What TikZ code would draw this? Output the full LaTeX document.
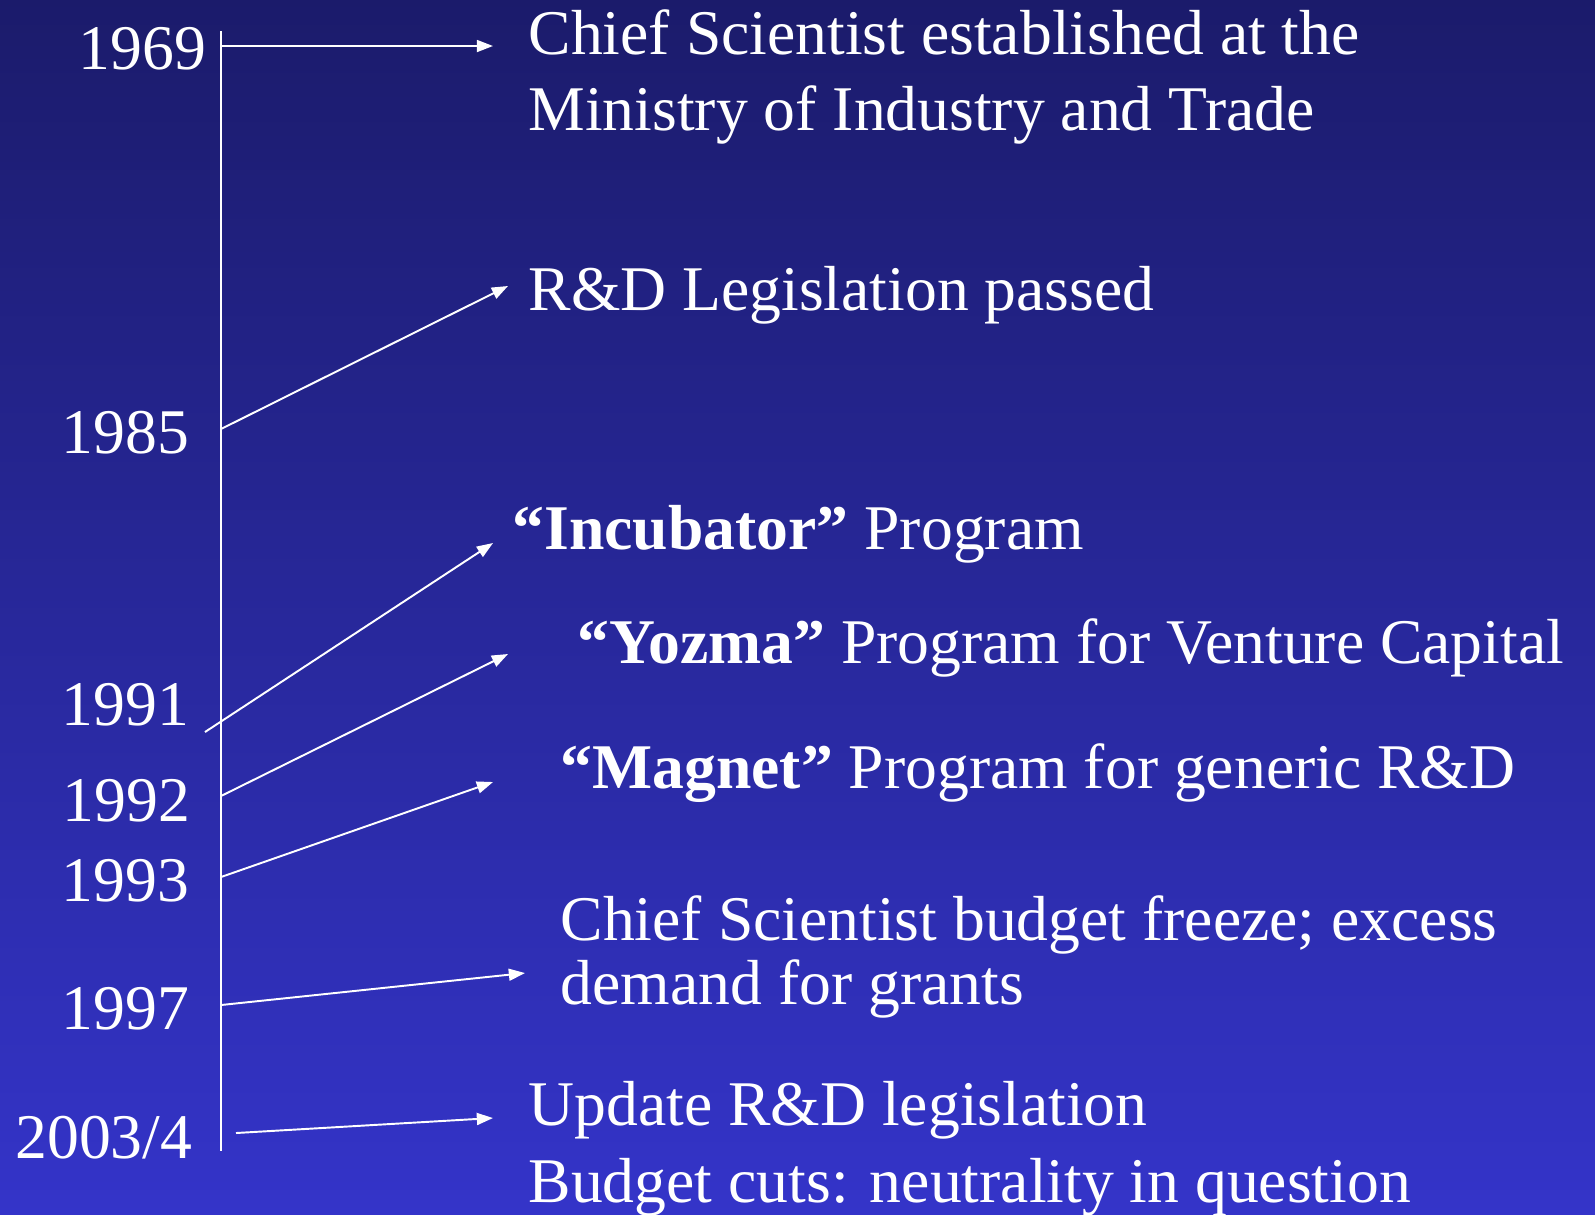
\documentclass[tikz,border=0pt]{standalone}
\usepackage{fontspec}
\setmainfont{Liberation Serif}
\usetikzlibrary{arrows.meta}
\definecolor{slidetop}{RGB}{27,27,107}
\definecolor{slidemid}{RGB}{42,42,168}
\definecolor{slidebot}{RGB}{52,52,201}
\tikzset{
  yr/.style={anchor=base east,inner sep=0pt,text=white,font=\fontsize{18.1}{21}\selectfont},
  ev/.style={anchor=base west,inner sep=0pt,text=white,font=\fontsize{18.1}{21}\selectfont},
  tl/.style={white,line width=0.55pt},
  ptr/.style={white,line width=0.55pt,-{Triangle[length=4.6pt,width=3.4pt]}}
}
\begin{document}
\begin{tikzpicture}[x=0.01cm,y=-0.01cm]
% background
\shade[top color=slidetop,middle color=slidemid,bottom color=slidebot] (0,0) rectangle (1595,1214);
\useasboundingbox (0,0) rectangle (1595,1214);
% time axis
\coordinate (axtop) at (221,31);
\coordinate (axbot) at (221,1151);
\draw[tl] (axtop) -- (axbot);
% years
\node[yr] (y69) at (207,69) {1969};
\node[yr] (y85) at (190,453) {1985};
\node[yr] (y91) at (190,725) {1991};
\node[yr] (y92) at (191,821) {1992};
\node[yr] (y93) at (190,901) {1993};
\node[yr] (y97) at (190,1029) {1997};
\node[yr] (y03) at (193,1158) {2003/4};
% events
\node[ev] (e69a) at (528,54) {Chief Scientist established at the};
\node[ev] (e69b) at (528,130) {Ministry of Industry and Trade};
\node[ev] (e85) at (528,310) {R\&D Legislation passed};
\node[ev] (e91) at (512,549) {\textbf{“Incubator”} Program};
\node[ev] (e92) at (577,663) {\textbf{“Yozma”} Program for Venture Capital};
\node[ev] (e93) at (560,788) {\textbf{“Magnet”} Program for generic R\&D};
\node[ev] (e97a) at (560,940) {Chief Scientist budget freeze; excess};
\node[ev] (e97b) at (560,1004) {demand for grants};
\node[ev] (e03a) at (528,1125) {Update R\&D legislation};
\node[ev] (e03b) at (528,1202) {Budget cuts: neutrality in question};
% arrow ends
\coordinate (s69) at (221,46);   \coordinate (t69) at (493,46);
\coordinate (s85) at (221,429);  \coordinate (t85) at (508,286);
\coordinate (s91) at (205,732);  \coordinate (t91) at (493,543);
\coordinate (s92) at (221,796);  \coordinate (t92) at (508,654);
\coordinate (s93) at (221,877);  \coordinate (t93) at (493,782);
\coordinate (s97) at (221,1005); \coordinate (t97) at (525,973);
\coordinate (s03) at (236,1133); \coordinate (t03) at (493,1118);
\foreach \k in {69,85,91,92,93,97,03}
  \draw[ptr] (s\k) -- (t\k);
\end{tikzpicture}
\end{document}
